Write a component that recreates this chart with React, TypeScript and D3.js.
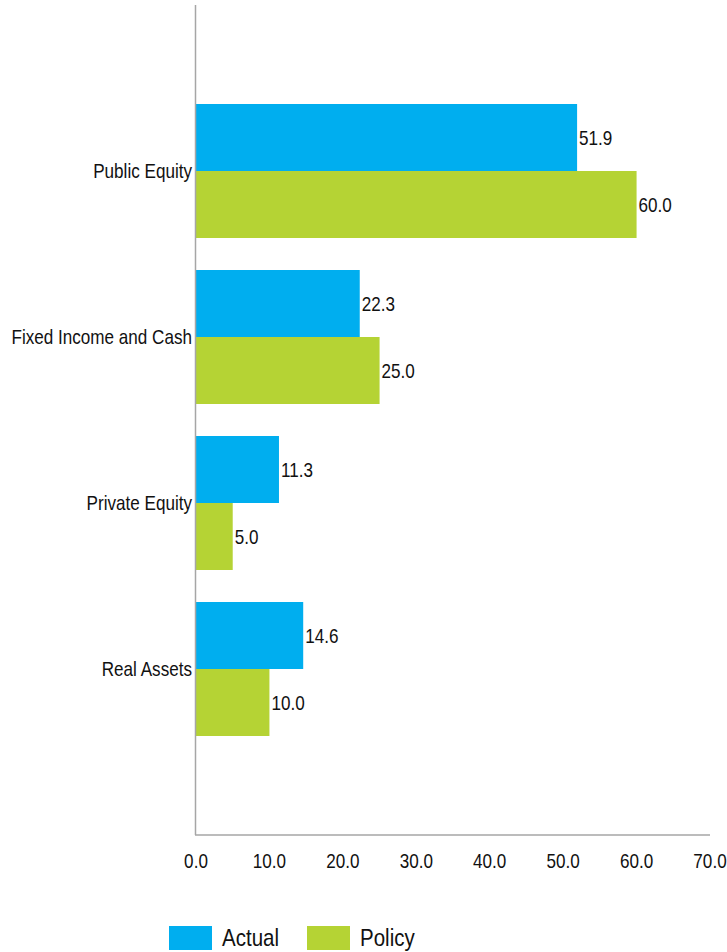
import React from "react";
import * as d3 from "d3";

const categories = ["Public Equity", "Fixed Income and Cash", "Private Equity", "Real Assets"];
const seriesNames = ["Actual", "Policy"];
const actualValues = [51.9, 22.3, 11.3, 14.6];
const policyValues = [60.0, 25.0, 5.0, 10.0];
const xTicks = [0, 10, 20, 30, 40, 50, 60, 70];
const colors = ["#00AEEF", "#B5D334"];

const W = 727;
const H = 952;
const FONT = "'Liberation Sans', Arial, sans-serif";
const SX = 0.855;

function NText({ x, y, size, anchor, children }: { x: number; y: number; size: number; anchor?: string; children: React.ReactNode }) {
  return (
    <text
      transform={`translate(${x},${y}) scale(${SX},1)`}
      dy="0.35em"
      textAnchor={anchor || "start"}
      fontSize={size}
      fill="#111"
    >
      {children}
    </text>
  );
}

export default function App() {
  const left = 196;
  const right = 710;
  const top = 5;
  const bottom = 835;
  const x = d3.scaleLinear().domain([0, 70]).range([left, right]);
  const y = d3.scalePoint<string>().domain(categories).range([top, bottom]).padding(1);
  const groupH = 134;
  const inner = d3.scaleBand<string>().domain(seriesNames).range([-groupH / 2, groupH / 2]);
  const series = [actualValues, policyValues];

  return (
    <svg width={W} height={H} style={{ position: "absolute", left: 0, top: 0, fontFamily: FONT }}>
      <rect width={W} height={H} fill="#fff" />
      {categories.map((c, ci) => (
        <g key={c}>
          {seriesNames.map((s, si) => {
            const v = series[si][ci];
            const y0 = (y(c) as number) + (inner(s) as number);
            return (
              <g key={s}>
                <rect x={x(0)} y={y0} width={x(v) - x(0)} height={inner.bandwidth()} fill={colors[si]} />
                <NText x={x(v) + 2} y={y0 + inner.bandwidth() / 2} size={20}>
                  {v.toFixed(1)}
                </NText>
              </g>
            );
          })}
          <NText x={left - 4} y={y(c) as number} size={20} anchor="end">
            {c}
          </NText>
        </g>
      ))}
      <line x1={left - 0.5} x2={left - 0.5} y1={top} y2={bottom} stroke="#A6A6A6" strokeWidth={1.5} />
      <line x1={left - 1} x2={right} y1={bottom} y2={bottom} stroke="#A6A6A6" strokeWidth={1.5} />
      {xTicks.map((t) => (
        <NText key={t} x={x(t)} y={861} size={20} anchor="middle">
          {t.toFixed(1)}
        </NText>
      ))}
      {seriesNames.map((s, i) => {
        const lx = [169, 307][i];
        return (
          <g key={s}>
            <rect x={lx} y={926} width={43} height={24} fill={colors[i]} />
            <NText x={lx + 53} y={938} size={24}>
              {s}
            </NText>
          </g>
        );
      })}
    </svg>
  );
}
